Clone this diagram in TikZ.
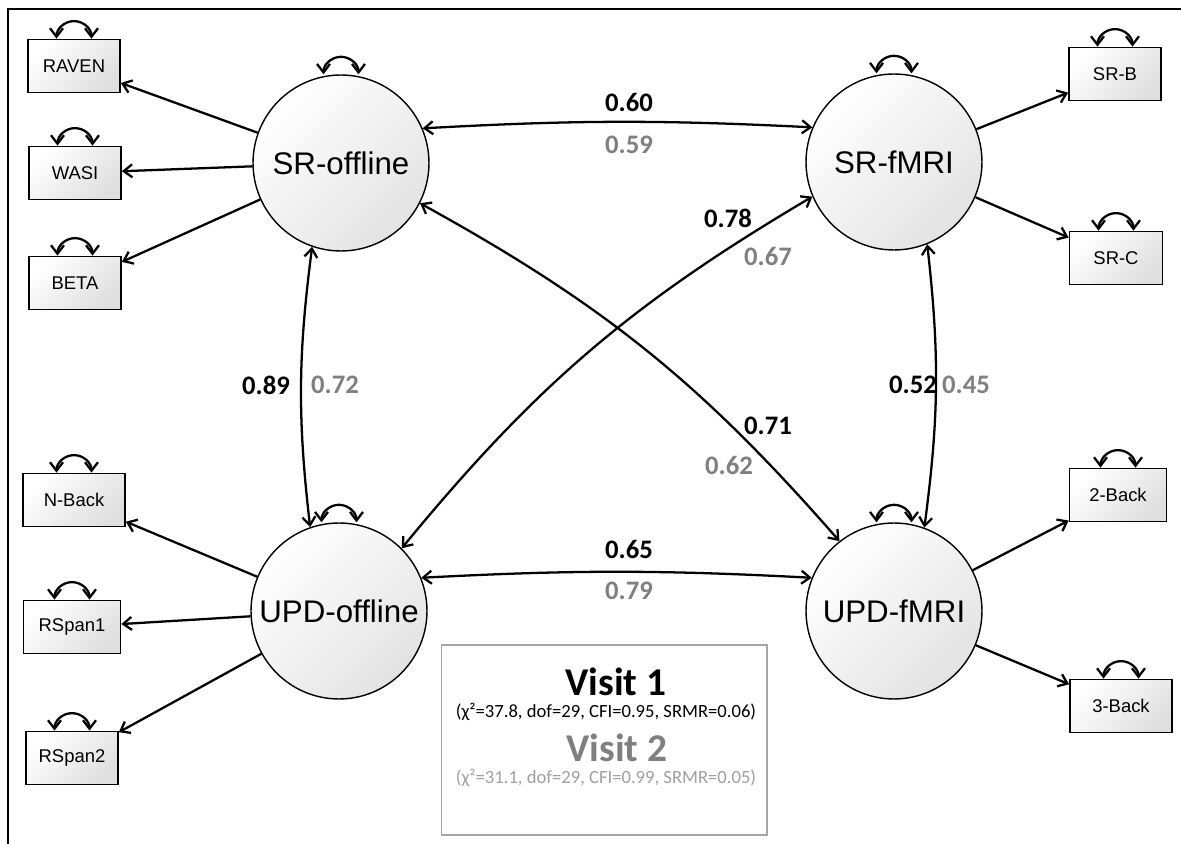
\documentclass[tikz,border=0pt]{standalone}
\usepackage{fontspec}
\setmainfont{Liberation Sans}
\newfontfamily\calib{Carlito}
\usetikzlibrary{arrows.meta}
\begin{document}
\begin{tikzpicture}[x=0.02cm,y=0.02cm,
  latent/.style={circle,draw,line width=0.8pt,minimum size=3.52cm,inner sep=0pt,
    top color=white,bottom color=gray!22,shading angle=45,
    font=\fontsize{17.8}{20}\selectfont},
  manifest/.style={rectangle,draw,line width=1pt,minimum width=1.84cm,
    minimum height=1.06cm,inner sep=0pt,
    top color=white,bottom color=gray!25,shading angle=45,
    font=\fontsize{10.5}{12}\selectfont},
  load/.style={-{Straight Barb[length=1.7mm,width=2.6mm]},line width=1.3pt},
  cov/.style={{Straight Barb[length=1.7mm,width=2.6mm]}-{Straight Barb[length=1.7mm,width=2.6mm]},line width=1.3pt},
  est1/.style={font=\calib\bfseries\fontsize{15.2}{18}\selectfont},
  est2/.style={est1,text=gray},
  visit/.style={font=\calib\bfseries\fontsize{22.4}{26}\selectfont},
  fitline/.style={font=\calib\fontsize{10.6}{12}\selectfont},
]
\useasboundingbox (0,0) rectangle (1181,-844);
\draw[line width=1.2pt] (8,-844) -- (8,-9) -- (1181,-9);
%
\node[latent](SRoff) at (341,-163) {SR-offline};
\node[latent](SRfmri) at (894,-162) {SR-fMRI};
\node[latent](UPDoff) at (339,-611) {UPD-offline};
\node[latent](UPDfmri) at (894,-611) {UPD-fMRI};
%
\node[manifest](RAVEN) at (74,-66) {RAVEN};
\node[manifest](WASI) at (75,-173) {WASI};
\node[manifest](BETA) at (75,-283) {BETA};
\node[manifest,minimum width=2.04cm](NBack) at (74,-500) {N-Back};
\node[manifest,minimum width=1.94cm](RSpan1) at (72,-627) {RSpan1};
\node[manifest](RSpan2) at (72,-758) {RSpan2};
\node[manifest](SRB) at (1115,-74) {SR-B};
\node[manifest,minimum width=1.86cm](SRC) at (1116,-258) {SR-C};
\node[manifest,minimum width=1.94cm](TwoBack) at (1118,-495) {2-Back};
\node[manifest,minimum width=2.04cm](ThreeBack) at (1121,-706) {3-Back};
%
\draw[load](SRoff) -- (RAVEN);
\draw[load](SRoff) -- (WASI);
\draw[load](SRoff) -- (BETA);
\draw[load](UPDoff) -- (NBack);
\draw[load](UPDoff) -- (RSpan1);
\draw[load](UPDoff) -- (RSpan2);
\draw[load](SRfmri) -- (SRB);
\draw[load](SRfmri) -- (SRC);
\draw[load](UPDfmri) -- (TwoBack);
\draw[load](UPDfmri) -- (ThreeBack);
%
\foreach \n in {RAVEN,WASI,BETA,NBack,RSpan1,RSpan2,SRB,SRC,TwoBack,ThreeBack,SRoff,SRfmri,UPDoff,UPDfmri}
  \draw[cov] ([xshift=-0.35cm]\n.north) arc[start angle=180,end angle=0,radius=0.35cm];
%
\draw[cov](SRoff.23) to[bend left=3] (SRfmri.157);
\node[est1](c60) at (629,-102) {0.60};
\node[est2](c59) at (629,-145) {0.59};
%
\draw[cov](UPDoff.22) to[bend left=3] (UPDfmri.158);
\node[est1](c65) at (629,-549) {0.65};
\node[est2](c79) at (629,-591) {0.79};
%
\draw[cov](SRoff.251) to[bend right=7] (UPDoff.109);
\node[est1](c89) at (266,-385) {0.89};
\node[est2](c72) at (335,-385) {0.72};
%
\draw[cov](SRfmri.292) to[bend left=7] (UPDfmri.70);
\node[est1](c52) at (913,-385) {0.52};
\node[est2](c45) at (966,-385) {0.45};
%
\draw[cov](SRoff.333) to[bend left=10] (UPDfmri.128);
\node[est1](c71) at (768,-426) {0.71};
\node[est2](c62) at (729,-465) {0.62};
%
\draw[cov](UPDoff.45) to[bend left=10] (SRfmri.203);
\node[est1](c78) at (728,-218) {0.78};
\node[est2](c67) at (768,-256) {0.67};
%
\node[draw=gray!70,line width=0.6pt,minimum width=6.52cm,minimum height=3.8cm](legend) at (604,-740) {};
\node[visit](v1) at (616,-682) {Visit 1};
\node[fitline](f1) at (606,-712) {(χ²=37.8, dof=29, CFI=0.95, SRMR=0.06)};
\node[visit,text=gray](v2) at (617,-748) {Visit 2};
\node[fitline,text=gray!75](f2) at (606,-778) {(χ²=31.1, dof=29, CFI=0.99, SRMR=0.05)};
\end{tikzpicture}
\end{document}
